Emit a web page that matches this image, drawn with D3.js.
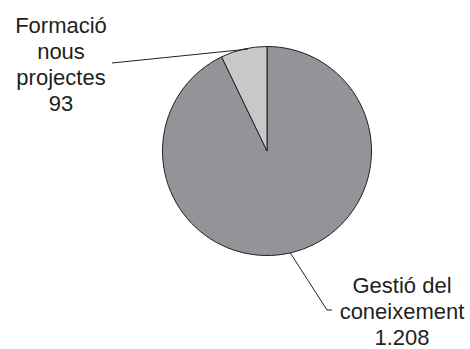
<!DOCTYPE html>
<html><head><meta charset="utf-8">
<script src="https://cdn.jsdelivr.net/npm/d3@7"></script>
<style>body{margin:0;background:#fff}svg{display:block}</style>
</head><body>
<script>
const categories = ["Gestió del coneixement", "Formació nous projectes"];
const values = [1208, 93];
const valueLabels = ["1.208", "93"];
const labelLines = [["Gestió del", "coneixement", "1.208"], ["Formació", "nous", "projectes", "93"]];
const colors = ["#939497", "#c7c8ca"];

const W = 470, H = 349, cx = 267, cy = 151, R = 104.5;
const svg = d3.select("body").append("svg").attr("width", W).attr("height", H);
const g = svg.append("g").attr("transform", `translate(${cx},${cy})`);
const pie = d3.pie().sort(null).value(d => d)(values);
const arc = d3.arc().innerRadius(0).outerRadius(R);
g.selectAll("path.slice").data(pie).join("path").attr("class","slice")
  .attr("d", arc).attr("fill", (d,i) => colors[i])
  .attr("stroke", "#231f20").attr("stroke-width", 1).attr("stroke-linejoin","round");

const mid = d => (d.startAngle + d.endAngle) / 2;
const pt = (a, r) => [r * Math.sin(a), -r * Math.cos(a)];

// label positions (absolute)
const labelPos = [{x: 402, y0: 293}, {x: 61, y0: 33}];
const leaders = [
  d => { const p = pt(mid(d), R); return [[cx+p[0], cy+p[1]], [327, 310], [332, 310]]; },
  d => { const p = pt(mid(d), R - 1); return [[cx+p[0]+4, cy+p[1]-1], [112, 63]]; }
];
pie.forEach((d, i) => {
  svg.append("path").attr("d", d3.line()(leaders[i](d)))
    .attr("fill", "none").attr("stroke", "#231f20").attr("stroke-width", 1);
  const t = svg.append("text").attr("x", labelPos[i].x).attr("y", labelPos[i].y0)
    .attr("text-anchor", "middle").attr("font-family", "'Liberation Sans', Arial, sans-serif")
    .attr("font-size", 22).attr("fill", "#231f20");
  labelLines[i].forEach((s, k) => t.append("tspan").attr("x", labelPos[i].x).attr("dy", k ? 26 : 0).text(s));
});
</script>
</body></html>
